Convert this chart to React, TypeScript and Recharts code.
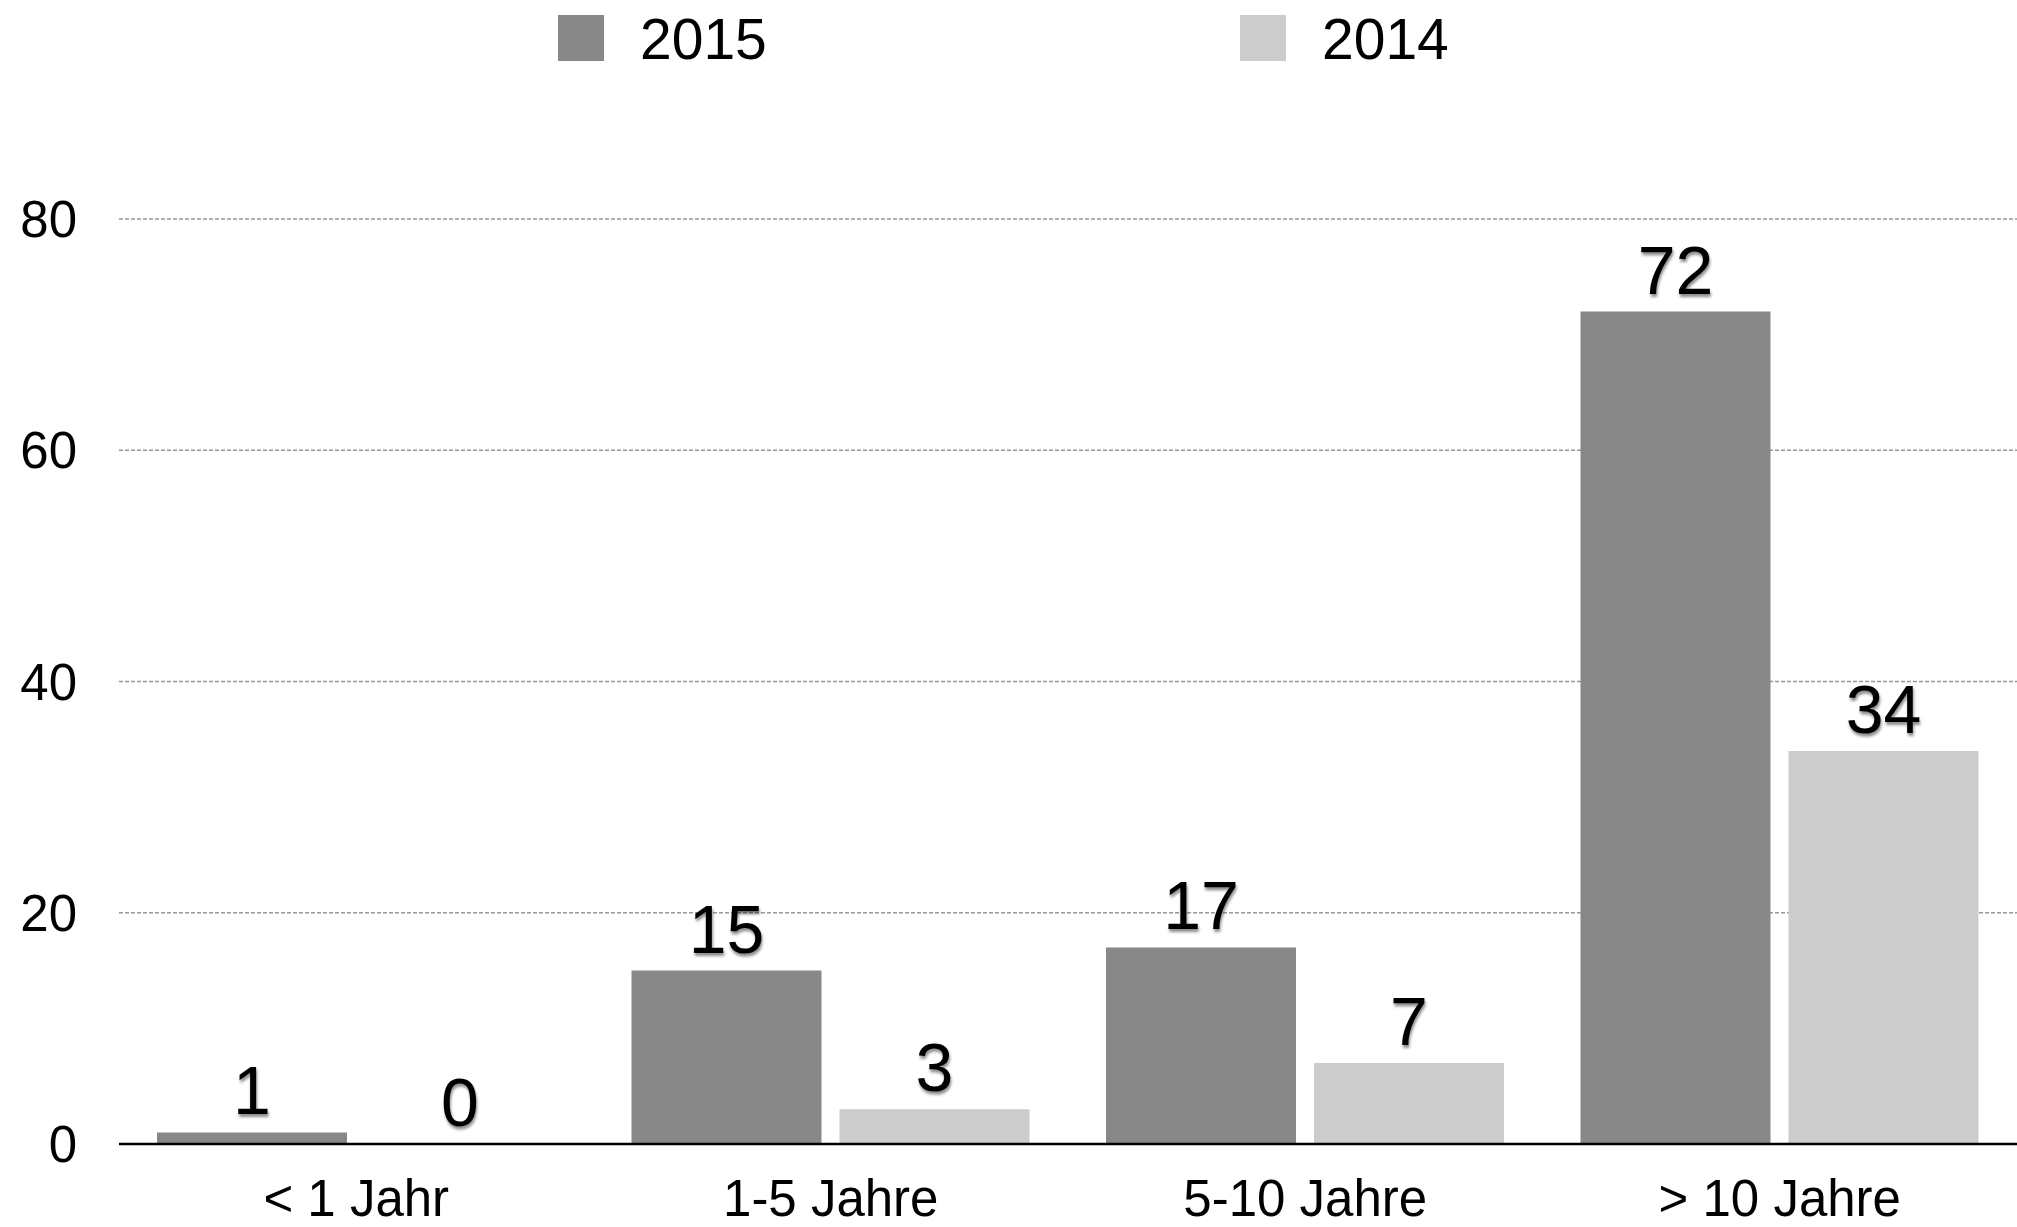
import React from 'react';
import { BarChart, Bar, XAxis, YAxis, CartesianGrid, LabelList } from 'recharts';

const categories = ['< 1 Jahr', '1-5 Jahre', '5-10 Jahre', '> 10 Jahre'];
const values2015 = [1, 15, 17, 72];
const values2014 = [0, 3, 7, 34];
const yTicks = [0, 20, 40, 60, 80];

const data = categories.map((name, i) => ({ name, y2015: values2015[i], y2014: values2014[i] }));

const FONT = '"Helvetica Neue", Helvetica, "Liberation Sans", Arial, sans-serif';
const DARK = '#888888';
const LIGHT = '#cccccc';

const ValueLabel = (props: any) => {
  const { x, y, width, height, value } = props;
  // zero-height bars still get a label sitting on the axis
  const top = height < 0 ? y + height : y;
  return (
    <text
      x={x + width / 2}
      y={top - 18}
      textAnchor="middle"
      fontSize={68}
      fontFamily={FONT}
      fill="#000"
      style={{ textShadow: '1px 3px 3px rgba(0,0,0,0.45)' }}
    >
      {value}
    </text>
  );
};

const legendItems = [
  { label: '2015', color: DARK, left: 558 },
  { label: '2014', color: LIGHT, left: 1240 },
];

export default function App() {
  return (
    <div style={{ position: 'absolute', left: 0, top: 0, width: 2017, height: 1227, background: '#fff' }}>
      {legendItems.map((item) => (
        <div key={item.label}>
          <div
            style={{
              position: 'absolute', left: item.left, top: 15, width: 46, height: 46, background: item.color,
            }}
          />
          <div
            style={{
              position: 'absolute', left: item.left + 82, top: 11, fontSize: 57, lineHeight: 1,
              fontFamily: FONT, color: '#000',
            }}
          >
            {item.label}
          </div>
        </div>
      ))}
      <BarChart
        width={2017}
        height={1227}
        data={data}
        margin={{ top: 219, right: 0, bottom: 0, left: 0 }}
        barSize={190}
        barGap={18}
      >
        <CartesianGrid vertical={false} stroke="#999" strokeWidth={1.5} strokeDasharray="4 2" />
        <XAxis
          dataKey="name"
          height={83}
          axisLine={{ stroke: '#000', strokeWidth: 2.5 }}
          tickLine={false}
          tickSize={0}
          tickMargin={36}
          tick={{ fill: '#000', fontSize: 51, fontFamily: FONT }}
        />
        <YAxis
          domain={[0, 80]}
          ticks={yTicks}
          width={119}
          axisLine={false}
          tickLine={false}
          tickSize={0}
          tickMargin={42}
          tick={{ fill: '#000', fontSize: 51, fontFamily: FONT }}
        />
        <Bar dataKey="y2015" fill={DARK} isAnimationActive={false} minPointSize={0.01}>
          <LabelList dataKey="y2015" content={<ValueLabel />} />
        </Bar>
        <Bar dataKey="y2014" fill={LIGHT} isAnimationActive={false} minPointSize={0.01}>
          <LabelList dataKey="y2014" content={<ValueLabel />} />
        </Bar>
      </BarChart>
    </div>
  );
}
